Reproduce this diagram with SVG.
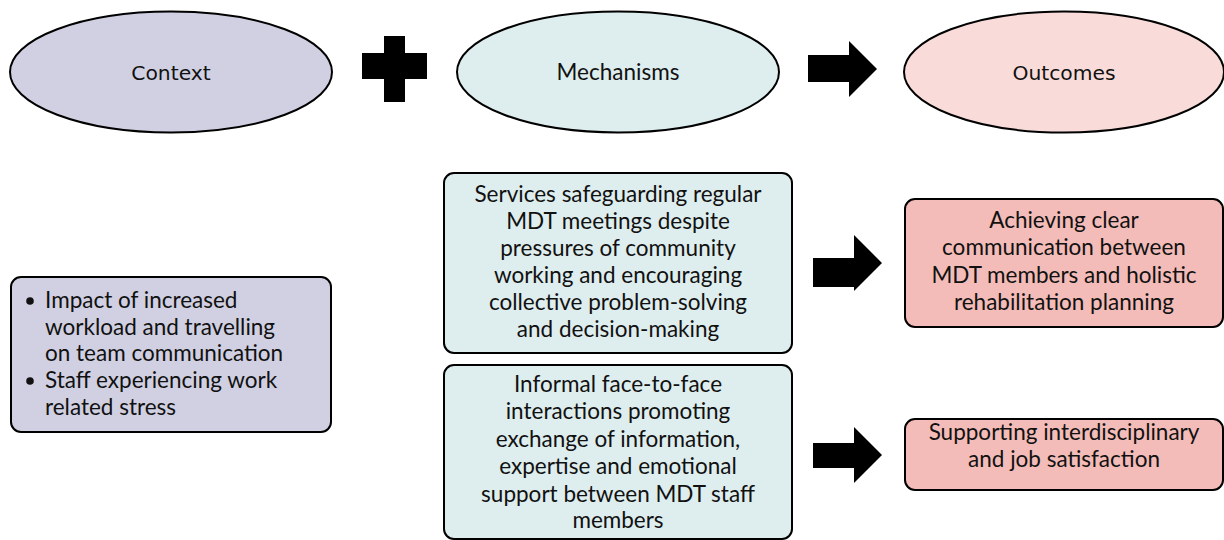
<svg xmlns="http://www.w3.org/2000/svg" width="1224" height="540" viewBox="0 0 1224 540">
<style>
.lbl{font-family:"DejaVu Sans",Verdana,sans-serif;font-size:20.3px;fill:#111;text-anchor:middle}
.lato{font-family:Lato,"Open Sans",sans-serif;font-size:22.5px;fill:#111}
.c{text-anchor:middle}
.shape{stroke:#000;stroke-width:2}
.ctx{fill:#d0d0e2}
.mech{fill:#deedee}
.out{fill:#f9dcda}
.outb{fill:#f4bcb8}
.blk{fill:#000}
</style>
<rect width="1224" height="540" fill="#fff"/>
<g id="context-ellipse">
<ellipse class="shape ctx" cx="171" cy="72" rx="161" ry="60.5"/>
<text class="lbl" x="171" y="80">Context</text>
</g>
<g id="mechanisms-ellipse">
<ellipse class="shape mech" cx="618" cy="72" rx="161" ry="60.5"/>
<text class="lato c" x="618" y="80">Mechanisms</text>
</g>
<g id="outcomes-ellipse">
<ellipse class="shape out" cx="1064" cy="72" rx="160" ry="60.5"/>
<text class="lbl" x="1064" y="80">Outcomes</text>
</g>
<g id="connectors">
<path class="blk" d="M362,53H384V36H405V53H427V79H405V102H384V79H362Z"/>
<path class="blk" d="M808,55H849V41L877,69L849,97V82H808Z"/>
<path class="blk" d="M813,258H854V235L882,263L854,291V287H813Z"/>
<path class="blk" d="M813,443H854V427L882,455L854,483V468H813Z"/>
</g>
<g id="context-box">
<rect class="shape ctx" x="11" y="277" width="320" height="155" rx="10"/>
<g class="lato">
<circle cx="30" cy="301" r="3.8" fill="#111"/>
<text x="45" y="308">Impact of increased</text>
<text x="45" y="334.5">workload and travelling</text>
<text x="45" y="361">on team communication</text>
<circle cx="30" cy="381" r="3.8" fill="#111"/>
<text x="45" y="388">Staff experiencing work</text>
<text x="45" y="414.5">related stress</text>
</g>
</g>
<g id="mechanism-1">
<rect class="shape mech" x="444" y="173" width="348" height="180" rx="10"/>
<g class="lato c">
<text x="618" y="202">Services safeguarding regular</text>
<text x="618" y="229">MDT meetings despite</text>
<text x="618" y="256">pressures of community</text>
<text x="618" y="283">working and encouraging</text>
<text x="618" y="310">collective problem-solving</text>
<text x="618" y="337">and decision-making</text>
</g>
</g>
<g id="mechanism-2">
<rect class="shape mech" x="444" y="365" width="348" height="174" rx="10"/>
<g class="lato c">
<text x="618" y="392">Informal face-to-face</text>
<text x="618" y="419">interactions promoting</text>
<text x="618" y="447">exchange of information,</text>
<text x="618" y="474">expertise and emotional</text>
<text x="618" y="501.5">support between MDT staff</text>
<text x="618" y="528">members</text>
</g>
</g>
<g id="outcome-1">
<rect class="shape outb" x="905" y="199" width="318" height="128" rx="10"/>
<g class="lato c">
<text x="1064" y="228">Achieving clear</text>
<text x="1064" y="255">communication between</text>
<text x="1064" y="282.5">MDT members and holistic</text>
<text x="1064" y="310">rehabilitation planning</text>
</g>
</g>
<g id="outcome-2">
<rect class="shape outb" x="905" y="419" width="318" height="71" rx="10"/>
<g class="lato c">
<text x="1064" y="440">Supporting interdisciplinary</text>
<text x="1064" y="467">and job satisfaction</text>
</g>
</g>
</svg>
